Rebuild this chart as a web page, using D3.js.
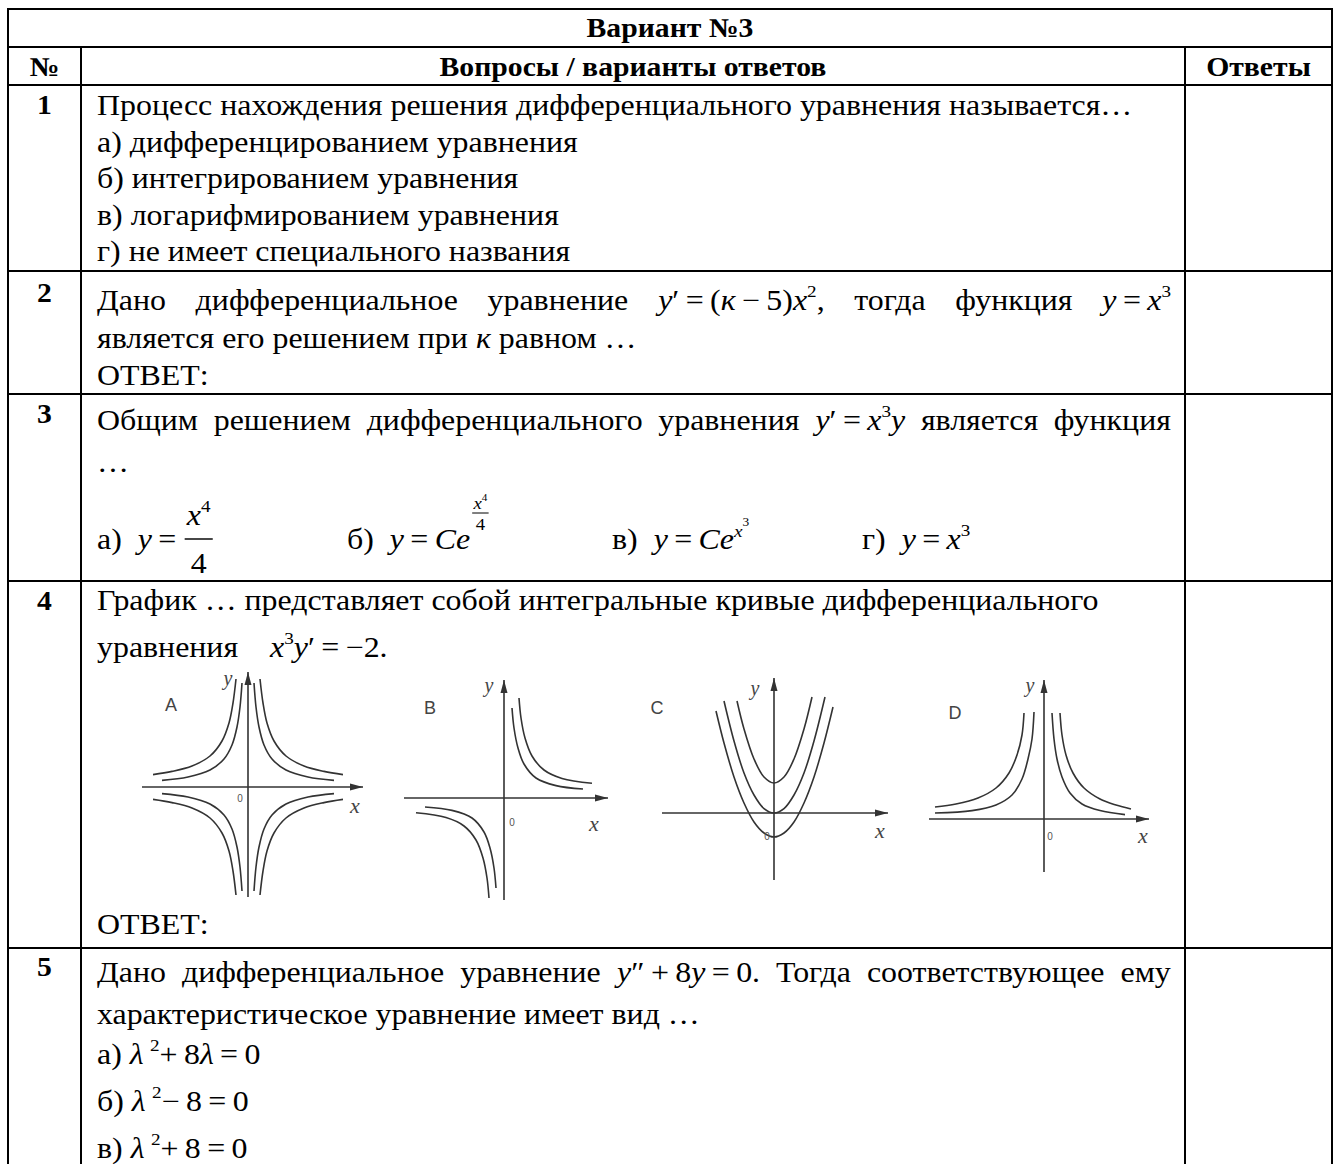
<!DOCTYPE html>
<html>
<head>
<meta charset="utf-8">
<script src="https://cdn.jsdelivr.net/npm/d3@7"></script>
<style>
  body { margin: 0; background: #fff; }
  svg { display: block; }
</style>
</head>
<body>
<svg id="sheet" width="1338" height="1164"></svg>
<script>
// ---------- texts ----------
var variantTitle = "Вариант №3";
var headerLabels = ["№", "Вопросы / варианты ответов", "Ответы"];
var questionNumbers = ["1", "2", "3", "4", "5"];

// segments: [text, type]  r = roman (justifiable), m = roman, i = italic, sup = superscript
var q1Lines = [
  [["Процесс нахождения решения дифференциального уравнения называется…", "r"]],
  [["а) дифференцированием уравнения", "r"]],
  [["б) интегрированием уравнения", "r"]],
  [["в) логарифмированием уравнения", "r"]],
  [["г) не имеет специального названия", "r"]]
];
var q2Lines = [
  [["Дано дифференциальное уравнение ", "r"], ["y", "i"], ["′\u2009=\u2009(", "m"], ["к", "i"], ["\u2009−\u20095)", "m"], ["x", "i"], ["2", "sup"], [", тогда функция ", "r"], ["y", "i"], ["\u2009=\u2009", "m"], ["x", "i"], ["3", "sup"]],
  [["является его решением при ", "r"], ["к", "i"], [" равном …", "r"]],
  [["ОТВЕТ:", "r"]]
];
var q3Lines = [
  [["Общим решением дифференциального уравнения ", "r"], ["y", "i"], ["′\u2009=\u2009", "m"], ["x", "i"], ["3", "sup"], ["y", "i"], [" является функция", "r"]],
  [["…", "r"]]
];
var q3OptionA = [["а)\u2002", "m"], ["y", "i"], ["\u2009=\u2009", "m"]];
var q3OptionANum = [["x", "i"], ["4", "sup"]];
var q3OptionADen = [["4", "m"]];
var q3OptionB = [["б)\u2002", "m"], ["y", "i"], ["\u2009=\u2009", "m"], ["Ce", "i"]];
var q3OptionBNum = [["x", "i"], ["4", "sup"]];
var q3OptionBDen = [["4", "m"]];
var q3OptionC = [["в)\u2002", "m"], ["y", "i"], ["\u2009=\u2009", "m"], ["Ce", "i"], ["x", "supi"], ["3", "ssup"]];
var q3OptionD = [["г)\u2002", "m"], ["y", "i"], ["\u2009=\u2009", "m"], ["x", "i"], ["3", "sup"]];
var q4Lines = [
  [["График … представляет собой интегральные кривые дифференциального", "r"]],
  [["уравнения\u2003", "m"], ["x", "i"], ["3", "sup"], ["y", "i"], ["′\u2009=\u2009−2.", "m"]]
];
var q4Answer = [["ОТВЕТ:", "r"]];
var q5Lines = [
  [["Дано дифференциальное уравнение ", "r"], ["y", "i"], ["″\u2009+\u20098", "m"], ["y", "i"], ["\u2009=\u20090", "m"], [". Тогда соответствующее ему", "r"]],
  [["характеристическое уравнение имеет вид …", "r"]],
  [["а) ", "m"], ["λ", "i"], ["\u2009", "m"], ["2", "sup"], ["+\u20098", "m"], ["λ", "i"], ["\u2009=\u20090", "m"]],
  [["б) ", "m"], ["λ", "i"], ["\u2009", "m"], ["2", "sup"], ["−\u20098\u2009=\u20090", "m"]],
  [["в) ", "m"], ["λ", "i"], ["\u2009", "m"], ["2", "sup"], ["+\u20098\u2009=\u20090", "m"]]
];

// ---------- integral curve sketches (values read in graph units) ----------
var graphLetters = ["A", "B", "C", "D"];
var curvesA = [
  [[0.6, 5.4], [0.75, 4.2], [0.95, 3.2], [1.3, 2.3], [1.9, 1.55], [2.8, 1.05], [3.8, 0.78], [4.75, 0.62]],
  [[0.3, 5.2], [0.4, 4.0], [0.55, 3.0], [0.8, 2.1], [1.2, 1.4], [1.9, 0.85], [3.0, 0.5], [4.3, 0.33]]
];
var quadrantsA = [[1, 1], [-1, 1], [1, -1], [-1, -1]];
var curvesB = [
  [[0.75, 5.0], [0.85, 4.0], [1.05, 3.0], [1.4, 2.1], [2.0, 1.4], [2.9, 0.98], [4.4, 0.74]],
  [[0.4, 4.5], [0.5, 3.5], [0.7, 2.5], [1.0, 1.7], [1.6, 1.0], [2.6, 0.62], [3.95, 0.45]]
];
var quadrantsB = [[1, 1], [-1, -1]];
var curvesC = [
  [[-1.85, 5.6], [-1.5, 4.2], [-1, 2.7], [-0.5, 1.8], [0, 1.5], [0.5, 1.8], [1, 2.7], [1.5, 4.2], [1.9, 5.8]],
  [[-2.5, 5.6], [-2, 3.6], [-1.5, 2.0], [-1, 0.9], [-0.5, 0.22], [0, 0], [0.5, 0.22], [1, 0.9], [1.5, 2.0], [2, 3.6], [2.55, 5.8]],
  [[-2.9, 5.1], [-2.5, 3.5], [-2, 1.8], [-1.5, 0.5], [-1, -0.45], [-0.5, -1.0], [0, -1.2], [0.5, -1.0], [1, -0.45], [1.5, 0.5], [2, 1.8], [2.5, 3.5], [2.95, 5.3]]
];
var curvesD = [
  [[0.8, 5.3], [0.9, 4.2], [1.1, 3.2], [1.45, 2.3], [2.0, 1.55], [2.8, 1.0], [3.6, 0.7], [4.35, 0.5]],
  [[0.4, 5.3], [0.5, 4.0], [0.65, 3.0], [0.9, 2.1], [1.3, 1.3], [1.9, 0.75], [2.8, 0.42], [4.05, 0.22]],
  [[-1.0, 5.3], [-1.1, 4.2], [-1.35, 3.2], [-1.75, 2.3], [-2.4, 1.55], [-3.3, 1.05], [-4.4, 0.75], [-5.45, 0.6]],
  [[-0.5, 5.35], [-0.6, 4.0], [-0.8, 3.0], [-1.1, 2.0], [-1.6, 1.2], [-2.4, 0.7], [-3.6, 0.42], [-5.45, 0.3]]
];

// ---------- layout ----------
var FONT = "'Liberation Serif', 'Times New Roman', serif";
var FS = 29, SX = 1.1;
var colX = [8, 81, 1185, 1332];
var rowY = [9, 47, 85, 271, 394, 581, 948, 1200];
var textX = 97, textRight = 1171;

var svg = d3.select("#sheet");
var gText = svg.append("g");

var segStyles = {
  r:    { k: 1,    dy: 0,     style: "normal" },
  m:    { k: 1,    dy: 0,     style: "normal" },
  i:    { k: 1,    dy: 0,     style: "italic" },
  sup:  { k: 0.6,  dy: -0.45, style: "normal" },
  supi: { k: 0.6,  dy: -0.42, style: "italic" },
  ssup: { k: 0.42, dy: -0.78, style: "normal" }
};

function drawSegs(g, x0, base, segs, opt) {
  opt = opt || {};
  var size = opt.size || FS;
  var items = segs.map(function (s) {
    var st = segStyles[s[1]];
    var t = g.append("text")
      .attr("font-family", FONT)
      .attr("font-size", size * st.k)
      .attr("font-style", st.style)
      .attr("font-weight", opt.bold ? "bold" : "normal")
      .attr("fill", "#000")
      .style("white-space", "pre")
      .text(s[0]);
    return {
      el: t,
      w: t.node().getComputedTextLength() * SX,
      sp: s[1] === "r" ? (s[0].match(/ /g) || []).length : 0,
      dy: st.dy * size
    };
  });
  var total = d3.sum(items, function (d) { return d.w; });
  var nsp = d3.sum(items, function (d) { return d.sp; });
  var extra = 0;
  if (opt.justifyTo && nsp) extra = (opt.justifyTo - x0 - total) / nsp;
  if (opt.anchor === "middle") x0 = x0 - total / 2;
  var x = x0;
  items.forEach(function (it) {
    it.el.attr("transform", "translate(" + x + "," + (base + it.dy) + ") scale(" + SX + ",1)")
      .style("word-spacing", (extra / SX) + "px");
    x += it.w + it.sp * extra;
  });
  return x;
}

function drawFrac(g, x, barY, numBase, denBase, num, den, size) {
  var gn = g.append("g"), gd = g.append("g");
  var wn = drawSegs(gn, 0, 0, num, { size: size });
  var wd = drawSegs(gd, 0, 0, den, { size: size });
  var w = Math.max(wn, wd) + size * 0.15;
  gn.attr("transform", "translate(" + (x + (w - wn) / 2) + "," + numBase + ")");
  gd.attr("transform", "translate(" + (x + (w - wd) / 2) + "," + denBase + ")");
  g.append("line")
    .attr("x1", x).attr("x2", x + w)
    .attr("y1", barY).attr("y2", barY)
    .attr("stroke", "#000").attr("stroke-width", Math.max(1, size * 0.05));
  return x + w;
}

// ---------- table grid ----------
var grid = svg.append("g").attr("stroke", "#000").attr("stroke-width", 2);
rowY.slice(0, -1).forEach(function (y) {
  grid.append("line").attr("x1", colX[0] - 1).attr("x2", colX[3] + 1).attr("y1", y).attr("y2", y);
});
[colX[0], colX[3]].forEach(function (x) {
  grid.append("line").attr("x1", x).attr("x2", x).attr("y1", rowY[0]).attr("y2", rowY[7]);
});
[colX[1], colX[2]].forEach(function (x) {
  grid.append("line").attr("x1", x).attr("x2", x).attr("y1", rowY[1]).attr("y2", rowY[7]);
});

// ---------- headers ----------
var HS = 27;
drawSegs(gText, (colX[0] + colX[3]) / 2, 37, [[variantTitle, "m"]], { bold: true, anchor: "middle", size: HS });
drawSegs(gText, (colX[0] + colX[1]) / 2, 76, [[headerLabels[0], "m"]], { bold: true, anchor: "middle", size: HS });
drawSegs(gText, (colX[1] + colX[2]) / 2, 76, [[headerLabels[1], "m"]], { bold: true, anchor: "middle", size: HS });
drawSegs(gText, (colX[2] + colX[3]) / 2, 76, [[headerLabels[2], "m"]], { bold: true, anchor: "middle", size: HS });

var numberBase = [114, 302, 423, 610, 976];
questionNumbers.forEach(function (n, i) {
  drawSegs(gText, (colX[0] + colX[1]) / 2, numberBase[i], [[n, "m"]], { bold: true, anchor: "middle", size: 27 });
});

// ---------- question 1 ----------
[115, 151.5, 188, 224.5, 261].forEach(function (b, i) {
  drawSegs(gText, textX, b, q1Lines[i]);
});

// ---------- question 2 ----------
drawSegs(gText, textX, 310, q2Lines[0], { justifyTo: textRight });
drawSegs(gText, textX, 348, q2Lines[1]);
drawSegs(gText, textX, 385, q2Lines[2]);

// ---------- question 3 ----------
drawSegs(gText, textX, 430, q3Lines[0], { justifyTo: textRight });
drawSegs(gText, textX, 472, q3Lines[1]);
var optBase = 549;
var xa = drawSegs(gText, textX, optBase, q3OptionA);
drawFrac(gText, xa + 2, optBase - 10, optBase - 24, optBase + 24, q3OptionANum, q3OptionADen, FS);
var xb = drawSegs(gText, 347, optBase, q3OptionB);
drawFrac(gText, xb + 2, optBase - 36, optBase - 40, optBase - 19, q3OptionBNum, q3OptionBDen, 17);
drawSegs(gText, 612, optBase, q3OptionC);
drawSegs(gText, 862, optBase, q3OptionD);

// ---------- question 4 ----------
drawSegs(gText, textX, 610, q4Lines[0]);
drawSegs(gText, textX, 657, q4Lines[1]);
drawSegs(gText, textX, 934, q4Answer);

// ---------- question 5 ----------
drawSegs(gText, textX, 982, q5Lines[0], { justifyTo: textRight });
drawSegs(gText, textX, 1024, q5Lines[1]);
drawSegs(gText, textX, 1064, q5Lines[2]);
drawSegs(gText, textX, 1111, q5Lines[3]);
drawSegs(gText, textX, 1158, q5Lines[4]);

// ---------- graphs ----------
var unit = 20;
var graphLayout = [
  { ox: 248,  oy: 787, x: [-5.3, 5.75],  y: [-5.5, 5.75],  letter: [-3.85, 4.1],  ly: [-1.0, 5.45],  lx: [5.35, -0.9],  l0: [-0.4, -0.55] },
  { ox: 504,  oy: 798, x: [-5.0, 5.2],   y: [-5.1, 5.9],   letter: [-3.7, 4.5],   ly: [-0.75, 5.65], lx: [4.5, -1.25],  l0: [0.4, -1.2] },
  { ox: 774,  oy: 813, x: [-5.6, 5.7],   y: [-3.35, 6.75], letter: [-5.85, 5.25], ly: [-0.95, 6.25], lx: [5.3, -0.85],  l0: [-0.35, -1.15] },
  { ox: 1044, oy: 819, x: [-5.75, 5.25], y: [-2.65, 6.95], letter: [-4.45, 5.3],  ly: [-0.7, 6.7],   lx: [4.95, -0.8],  l0: [0.3, -0.85] }
];
var graphCurves = [
  { curves: curvesA, quads: quadrantsA },
  { curves: curvesB, quads: quadrantsB },
  { curves: curvesC, quads: [[1, 1]] },
  { curves: curvesD, quads: [[1, 1]] }
];

var ink = "#333";
graphLayout.forEach(function (gl, gi) {
  var xs = d3.scaleLinear().domain([0, 1]).range([gl.ox, gl.ox + unit]);
  var ys = d3.scaleLinear().domain([0, 1]).range([gl.oy, gl.oy - unit]);
  var g = svg.append("g");

  // axes with arrows
  g.append("line").attr("x1", xs(gl.x[0])).attr("x2", xs(gl.x[1])).attr("y1", ys(0)).attr("y2", ys(0))
    .attr("stroke", ink).attr("stroke-width", 1.6);
  g.append("line").attr("x1", xs(0)).attr("x2", xs(0)).attr("y1", ys(gl.y[0])).attr("y2", ys(gl.y[1]))
    .attr("stroke", ink).attr("stroke-width", 1.6);
  var ax = xs(gl.x[1]), ay = ys(0);
  g.append("path").attr("d", "M" + ax + "," + ay + "l-13,-3.5l0,7z").attr("fill", ink);
  var bx = xs(0), by = ys(gl.y[1]);
  g.append("path").attr("d", "M" + bx + "," + by + "l-3.5,13l7,0z").attr("fill", ink);

  var line = d3.line()
    .x(function (d) { return d[0]; })
    .y(function (d) { return d[1]; })
    .curve(d3.curveCatmullRom);
  graphCurves[gi].quads.forEach(function (q) {
    graphCurves[gi].curves.forEach(function (c) {
      var pts = c.map(function (p) { return [xs(p[0] * q[0]), ys(p[1] * q[1])]; });
      g.append("path").attr("d", line(pts)).attr("fill", "none")
        .attr("stroke", ink).attr("stroke-width", 1.6);
    });
  });

  g.append("text").attr("x", xs(gl.letter[0])).attr("y", ys(gl.letter[1]))
    .attr("font-family", "'Liberation Sans', Arial, sans-serif").attr("font-size", 18)
    .attr("fill", "#444").attr("text-anchor", "middle").attr("dominant-baseline", "central")
    .text(graphLetters[gi]);
  g.append("text").attr("x", xs(gl.ly[0])).attr("y", ys(gl.ly[1]))
    .attr("font-family", FONT).attr("font-style", "italic").attr("font-size", 20)
    .attr("fill", "#444").attr("text-anchor", "middle").attr("dominant-baseline", "central")
    .text("y");
  g.append("text").attr("x", xs(gl.lx[0])).attr("y", ys(gl.lx[1]))
    .attr("font-family", FONT).attr("font-style", "italic").attr("font-size", 22)
    .attr("fill", "#444").attr("text-anchor", "middle").attr("dominant-baseline", "central")
    .text("x");
  g.append("text").attr("x", xs(gl.l0[0])).attr("y", ys(gl.l0[1]))
    .attr("font-family", "'Liberation Sans', Arial, sans-serif").attr("font-size", 10)
    .attr("fill", "#555").attr("text-anchor", "middle").attr("dominant-baseline", "central")
    .text("0");
});
</script>
</body>
</html>
